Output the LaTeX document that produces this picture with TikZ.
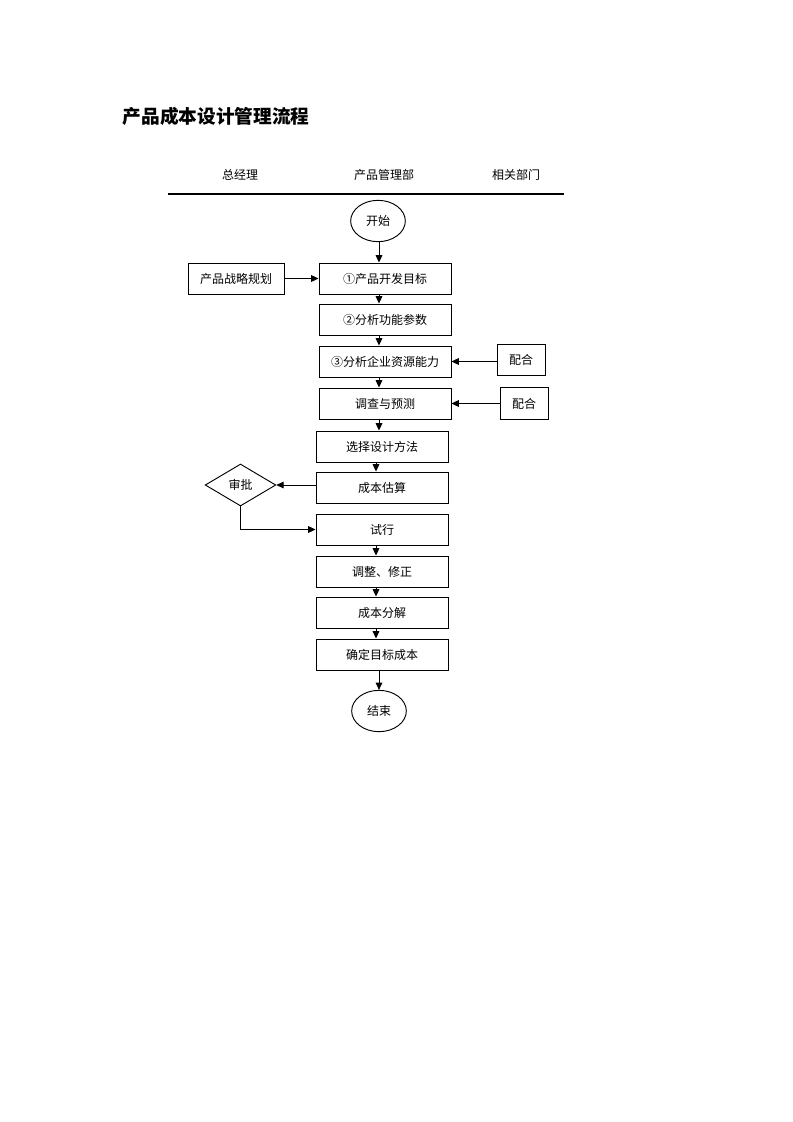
\documentclass[tikz,border=0pt]{standalone}
\usepackage{fontspec}
\setmainfont{Noto Sans CJK SC}
\usetikzlibrary{shapes.geometric,arrows.meta}
\begin{document}
\begin{tikzpicture}[x=0.75pt,y=-0.75pt,
  every node/.style={font=\fontsize{9}{11}\selectfont},
  box/.style={draw,line width=0.7pt,rectangle,inner sep=0pt,minimum width=99pt,minimum height=23.25pt},
  sbox/.style={draw,line width=0.7pt,rectangle,inner sep=0pt,minimum width=36pt,minimum height=23.5pt},
  term/.style={draw,line width=0.7pt,ellipse,inner sep=0pt,minimum width=41pt,minimum height=31pt},
  arr/.style={line width=0.7pt,-{Triangle[length=5.5pt,width=5pt]}},
  lbl/.style={font=\fontsize{9}{11}\selectfont}]
\useasboundingbox (0,0) rectangle (793,1122);
\fill[white] (0,0) rectangle (793,1122);
% title
\node[anchor=west,font=\fontsize{14}{16}\selectfont\bfseries] (title) at (118,116) {产品成本设计管理流程};
% headers
\node[lbl] (h1) at (240,175) {总经理};
\node[lbl] (h2) at (384,175) {产品管理部};
\node[lbl] (h3) at (516,175) {相关部门};
\draw[line width=0.8pt] (168,194) coordinate (la) -- (564,194) coordinate (lb);
% guide coordinates
\coordinate (cA) at (379,0);
\coordinate (cB) at (376,0);
% nodes
\node[term] (start) at (378,221) {开始};
\node[box] (b1) at (385,278.5) {①产品开发目标};
\node[draw,line width=0.7pt,inner sep=0pt,minimum width=72pt,minimum height=23.25pt] (plan) at (236,278.5) {产品战略规划};
\node[box] (b2) at (385,319.5) {②分析功能参数};
\node[box] (b3) at (385,361.5) {③分析企业资源能力};
\node[sbox] (p1) at (521,360) {配合};
\node[box] (b4) at (385,403.5) {调查与预测};
\node[sbox] (p2) at (524,403.5) {配合};
\node[box] (b5) at (382,446.5) {选择设计方法};
\node[box] (b6) at (382,487.5) {成本估算};
\node[draw,line width=0.7pt,diamond,aspect=1.7,inner sep=0pt,minimum width=53pt,minimum height=31.5pt] (d) at (240.5,485) {审批};
\node[box] (b7) at (382,529.5) {试行};
\node[box] (b8) at (382,571.5) {调整、修正};
\node[box] (b9) at (382,612.5) {成本分解};
\node[box] (b10) at (382,654.5) {确定目标成本};
\node[term] (end) at (379,711) {结束};
% connectors
\draw[arr] (start.south -| cA) -- (b1.north -| cA);
\draw[arr] (plan.east) -- (b1.west);
\draw[arr] (b1.south -| cA) -- (b2.north -| cA);
\draw[arr] (b2.south -| cA) -- (b3.north -| cA);
\draw[arr] (p1.west |- b3.east) -- (b3.east);
\draw[arr] (b3.south -| cA) -- (b4.north -| cA);
\draw[arr] (p2.west) -- (b4.east);
\draw[arr] (b4.south -| cA) -- (b5.north -| cA);
\draw[arr] (b5.south -| cB) -- (b6.north -| cB);
\draw[arr] (b6.west |- d.east) -- (d.east);
\draw[arr] (d.south) |- (b7.west);
\draw[arr] (b7.south -| cB) -- (b8.north -| cB);
\draw[arr] (b8.south -| cB) -- (b9.north -| cB);
\draw[arr] (b9.south -| cB) -- (b10.north -| cB);
\draw[arr] (b10.south -| cA) -- (end.north);
\end{tikzpicture}
\end{document}
